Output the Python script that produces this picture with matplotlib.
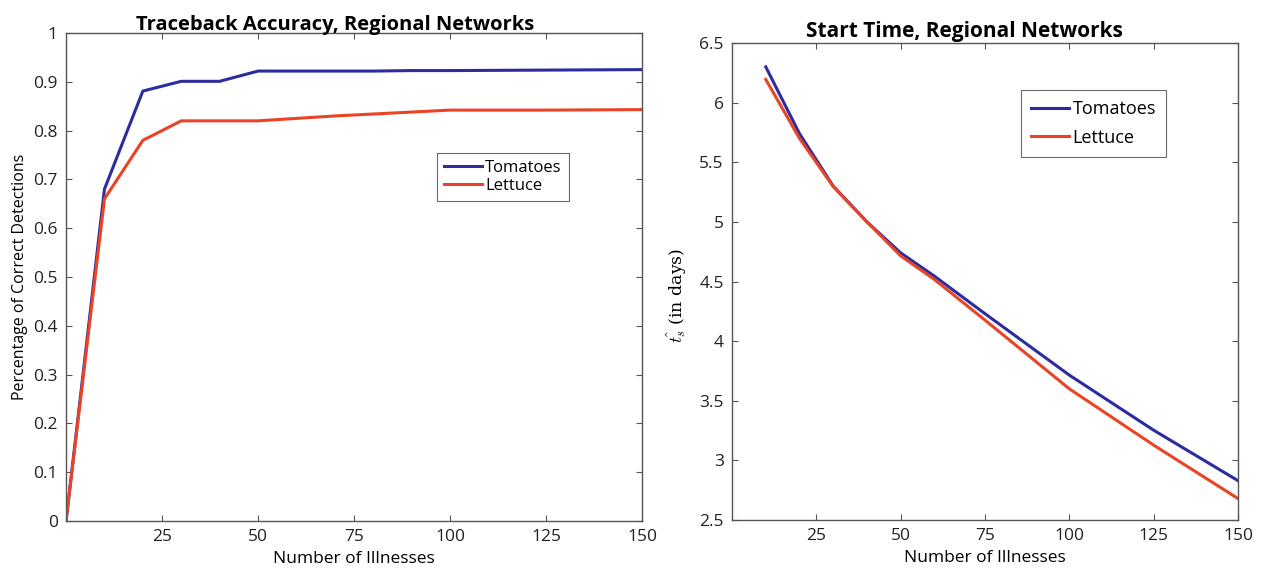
import matplotlib
matplotlib.use("Agg")
import matplotlib.pyplot as plt

# ---- data ----
acc_x = [0, 10, 20, 30, 40, 50, 60, 70, 80, 90, 100, 125, 150]
acc_tomatoes = [0, 0.68, 0.881, 0.901, 0.901, 0.922, 0.922, 0.922, 0.922, 0.923, 0.923, 0.924, 0.925]
acc_lettuce = [0, 0.66, 0.78, 0.82, 0.82, 0.82, 0.825, 0.83, 0.834, 0.838, 0.842, 0.842, 0.843]

st_x = [10, 20, 30, 40, 50, 60, 75, 100, 125, 150]
st_tomatoes = [6.30, 5.74, 5.30, 5.00, 4.74, 4.545, 4.23, 3.715, 3.253, 2.83]
st_lettuce = [6.195, 5.70, 5.295, 5.00, 4.715, 4.517, 4.176, 3.60, 3.128, 2.68]

x_ticks = [25, 50, 75, 100, 125, 150]
acc_yticks = [0, 0.1, 0.2, 0.3, 0.4, 0.5, 0.6, 0.7, 0.8, 0.9, 1]
acc_yticklabels = ["0", "0.1", "0.2", "0.3", "0.4", "0.5", "0.6", "0.7", "0.8", "0.9", "1"]
st_yticks = [2.5, 3, 3.5, 4, 4.5, 5, 5.5, 6, 6.5]
st_yticklabels = ["2.5", "3", "3.5", "4", "4.5", "5", "5.5", "6", "6.5"]
series_names = ["Tomatoes", "Lettuce"]

# ---- style ----
BLUE = "#2c2c9e"
RED = "#ea4326"
AXC = "#555555"
plt.rcParams['font.family'] = ['Open Sans', 'DejaVu Sans']
plt.rcParams['mathtext.fontset'] = 'cm'

fig = plt.figure(figsize=(12.63, 5.72), dpi=100)
ax1 = fig.add_axes([0.0523, 0.0892, 0.4560, 0.8531])
ax2 = fig.add_axes([0.5796, 0.0909, 0.4006, 0.8339])

def style(ax):
    for s in ax.spines.values():
        s.set_color(AXC)
        s.set_linewidth(1.0)
    ax.tick_params(direction='in', top=True, right=True, length=4, width=0.8,
                   color=AXC, labelsize=12.5, labelcolor='#222222', pad=6)

# left
ax1.plot(acc_x, acc_tomatoes, color=BLUE, lw=2.2, label=series_names[0])
ax1.plot(acc_x, acc_lettuce, color=RED, lw=2.2, label=series_names[1])
ax1.set_xlim(0, 150)
ax1.set_ylim(0, 1)
ax1.set_xticks(x_ticks)
ax1.set_yticks(acc_yticks)
ax1.set_yticklabels(acc_yticklabels)
style(ax1)
ax1.set_title("Traceback Accuracy, Regional Networks", fontsize=14.5, fontweight='bold',
              pad=2, x=0.468)
ax1.set_xlabel("Number of Illnesses", fontsize=12.5, labelpad=4, fontweight='medium')
ax1.set_ylabel("Percentage of Correct Detections", fontsize=11.5, labelpad=4)
leg1 = ax1.legend(loc='upper left', bbox_to_anchor=(437/1263, 1-153/572),
                  bbox_transform=fig.transFigure, fontsize=12, frameon=True,
                  fancybox=False, edgecolor='#444444', handlelength=2.3,
                  handletextpad=0.2, borderpad=0.4, labelspacing=0.15, borderaxespad=0)
leg1.get_frame().set_linewidth(0.8)

# right
ax2.plot(st_x, st_tomatoes, color=BLUE, lw=2.2, label=series_names[0])
ax2.plot(st_x, st_lettuce, color=RED, lw=2.2, label=series_names[1])
ax2.set_xlim(0, 150)
ax2.set_ylim(2.5, 6.5)
ax2.set_xticks(x_ticks)
ax2.set_yticks(st_yticks)
ax2.set_yticklabels(st_yticklabels)
style(ax2)
ax2.set_title("Start Time, Regional Networks", fontsize=15, fontweight='bold', pad=4, x=0.46)
ax2.set_xlabel("Number of Illnesses", fontsize=12.5, labelpad=4, fontweight='medium')
ax2.set_ylabel(r"$\hat{t_s}$ (in days)", fontsize=12.5, family='DejaVu Serif', labelpad=6)
ax2.yaxis.set_label_coords(-0.085, 0.47)
leg2 = ax2.legend(loc='upper left', bbox_to_anchor=(1021/1263, 1-90/572),
                  bbox_transform=fig.transFigure, fontsize=13, frameon=True,
                  fancybox=False, edgecolor='#444444', handlelength=2.1,
                  handletextpad=0.2, borderpad=0.55, labelspacing=0.6, borderaxespad=0)
leg2.get_frame().set_linewidth(0.8)

fig.savefig("out.png", dpi=100)
